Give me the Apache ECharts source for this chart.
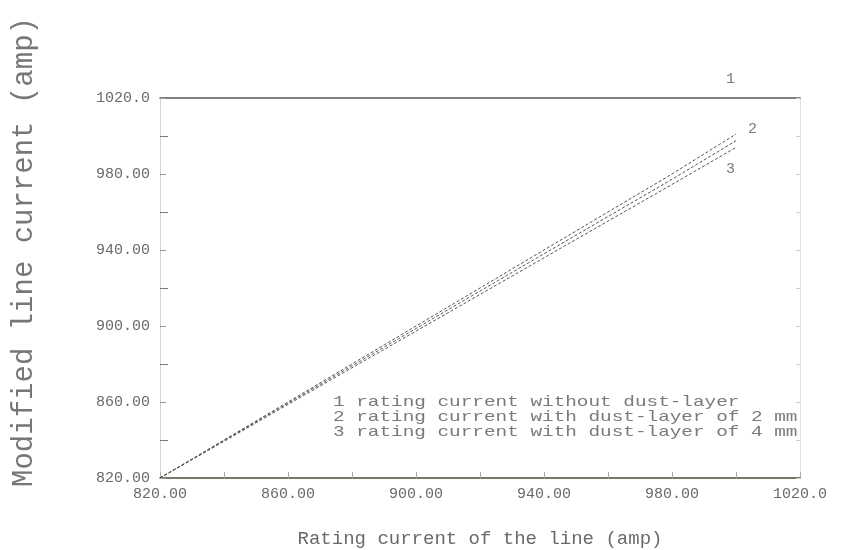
<!DOCTYPE html>
<html>
<head>
<meta charset="utf-8">
<script src="https://cdn.jsdelivr.net/npm/echarts@6/dist/echarts.min.js"></script>
<style>html,body{margin:0;padding:0;background:#fff;}#chart{width:845px;height:550px;}</style>
</head>
<body>
<div id="chart"></div>
<script>
// Data
const ratingCurrent = [820, 840, 860, 880, 900, 920, 940, 960, 980, 1000];
const noDust = [820, 840, 860, 880, 900, 920, 940, 960, 980, 1001];
const dust2mm = [820, 839.7, 859.4, 879.0, 898.7, 918.4, 938.0, 957.6, 977.2, 997.5];
const dust4mm = [820, 839.3, 858.7, 878.0, 897.3, 916.6, 935.9, 955.2, 974.5, 994.0];
const legendLines = [
  '1 rating current without dust-layer',
  '2 rating current with dust-layer of 2 mm',
  '3 rating current with dust-layer of 4 mm'
];
const curveLabels = ['1', '2', '3'];
const xTitle = 'Rating current of the line (amp)';
const yTitle = 'Modified line current (amp)';

const pair = (xs, ys) => xs.map((x, i) => [x, ys[i]]);
const fmt = v => { let s = v.toFixed(2); if (s.length > 6) s = v.toFixed(1); return s; };
const mono = 'Liberation Mono';
const txtColor = '#6a6a6a';

const chart = echarts.init(document.getElementById('chart'));
const lineStyle = { color: '#555', width: 1, type: [3, 2] };
chart.setOption({
  animation: false,
  backgroundColor: '#fff',
  grid: { left: 160, right: 45, top: 98, bottom: 72, outerBoundsMode: 'none', containLabel: false },
  xAxis: [{
    type: 'value', min: 820, max: 1020, interval: 40,
    axisLine: { lineStyle: { color: '#4a4a3a', width: 1.5 } },
    axisTick: { inside: true, length: 6, lineStyle: { color: '#aaa' } },
    minorTick: { show: true, splitNumber: 2, length: 6, lineStyle: { color: '#aaa' } },
    splitLine: { show: false },
    axisLabel: { formatter: fmt, color: txtColor, fontFamily: mono, fontSize: 15, margin: 9 },
    name: xTitle, nameLocation: 'middle', nameGap: 51,
    nameTextStyle: { color: txtColor, fontFamily: mono, fontSize: 19 }
  }, {
    type: 'value', position: 'top', min: 820, max: 1020, interval: 40,
    axisLine: { show: true, lineStyle: { color: '#555', width: 1.5 } },
    axisTick: { show: false }, axisLabel: { show: false }, splitLine: { show: false }
  }],
  yAxis: [{
    type: 'value', min: 820, max: 1020, interval: 40,
    axisLine: { show: true, lineStyle: { color: '#ccc', type: 'dotted' } },
    axisTick: { inside: true, length: 6, lineStyle: { color: '#999' } },
    minorTick: { show: true, splitNumber: 2, length: 8, lineStyle: { color: '#777' } },
    splitLine: { show: false },
    axisLabel: { formatter: fmt, color: txtColor, fontFamily: mono, fontSize: 15, margin: 10 }
  }, {
    type: 'value', position: 'right', min: 820, max: 1020, interval: 40,
    axisLine: { show: true, lineStyle: { color: '#ddd', type: 'dotted' } },
    axisTick: { inside: true, length: 4, lineStyle: { color: '#ccc' } },
    minorTick: { show: true, splitNumber: 2, length: 4, lineStyle: { color: '#ccc' } },
    axisLabel: { show: false }, splitLine: { show: false }
  }],
  series: [
    { type: 'line', name: legendLines[0], data: pair(ratingCurrent, noDust), symbol: 'none', lineStyle },
    { type: 'line', name: legendLines[1], data: pair(ratingCurrent, dust2mm), symbol: 'none', lineStyle },
    { type: 'line', name: legendLines[2], data: pair(ratingCurrent, dust4mm), symbol: 'none', lineStyle }
  ],
  graphic: [
    {
      type: 'text', x: 24, y: 252, rotation: Math.PI / 2,
      style: { text: yTitle, fill: '#777', font: '29px "Liberation Mono"', align: 'center', verticalAlign: 'middle' }
    },
    ...legendLines.map((t, i) => ({
      type: 'text', left: 333, top: 395 + i * 15, scaleX: 1.29,
      style: { text: t, fill: '#7a7a7a', font: '15px "Liberation Mono"' }
    })),
    ...curveLabels.map((t, i) => ({
      type: 'text', left: [726, 748, 726][i], top: [72, 122, 162][i],
      style: { text: t, fill: '#7a7a7a', font: '15px "Liberation Mono"' }
    }))
  ]
});
</script>
</body>
</html>
